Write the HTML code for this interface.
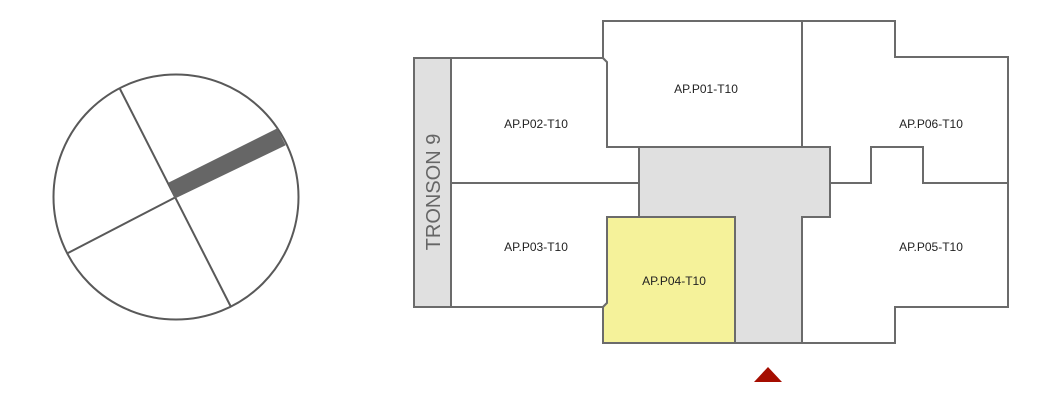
<!DOCTYPE html>
<html><head><meta charset="utf-8"><style>html,body{margin:0;padding:0;background:#fff}svg{display:block}</style></head><body>
<svg width="1062" height="402" viewBox="0 0 1062 402" xmlns="http://www.w3.org/2000/svg">
<g stroke="#595959" stroke-width="2" fill="#fff">
<ellipse cx="176" cy="197" rx="122.5" ry="122.5"/>
<line x1="120" y1="89" x2="231" y2="307"/>
<line x1="68" y1="253" x2="176" y2="197"/>
<polygon points="169,183 277,129 285,145 175,198" fill="#666" stroke="#666" stroke-width="1"/>
</g>
<g stroke="#6b6b6b" stroke-width="2" fill="#fff">
<rect x="414" y="58" width="37" height="249" fill="#e0e0e0"/>
<polygon points="451,58 603,58 607,62 607,147 639,147 639,183 451,183"/>
<polygon points="451,183 639,183 639,217 607,217 607,303 603,307 451,307"/>
<polygon points="603,21 802,21 802,147 607,147 607,62 603,58"/>
<polygon points="639,147 830,147 830,217 802,217 802,343 735,343 735,217 639,217" fill="#e0e0e0"/>
<polygon points="607,217 735,217 735,343 603,343 603,307 607,303" fill="#f5f29a"/>
<polygon points="802,21 895,21 895,57 1008,57 1008,183 923,183 923,147 871,147 871,183 830,183 830,147 802,147"/>
<polygon points="830,183 871,183 871,147 923,147 923,183 1008,183 1008,307 895,307 895,343 802,343 802,217 830,217"/>
</g>
<polygon points="754,382 768,367 782,382" fill="#a50d00"/>
<g font-family="Liberation Sans, sans-serif" font-size="12" fill="#222" text-anchor="middle">
<text x="536" y="128">AP.P02-T10</text>
<text x="706" y="93">AP.P01-T10</text>
<text x="536" y="251">AP.P03-T10</text>
<text x="674" y="285">AP.P04-T10</text>
<text x="931" y="128">AP.P06-T10</text>
<text x="931" y="251">AP.P05-T10</text>
<text x="0" y="0" font-size="20" fill="#666" transform="translate(440,192) rotate(-90)">TRONSON 9</text>
</g>
</svg>
</body></html>
